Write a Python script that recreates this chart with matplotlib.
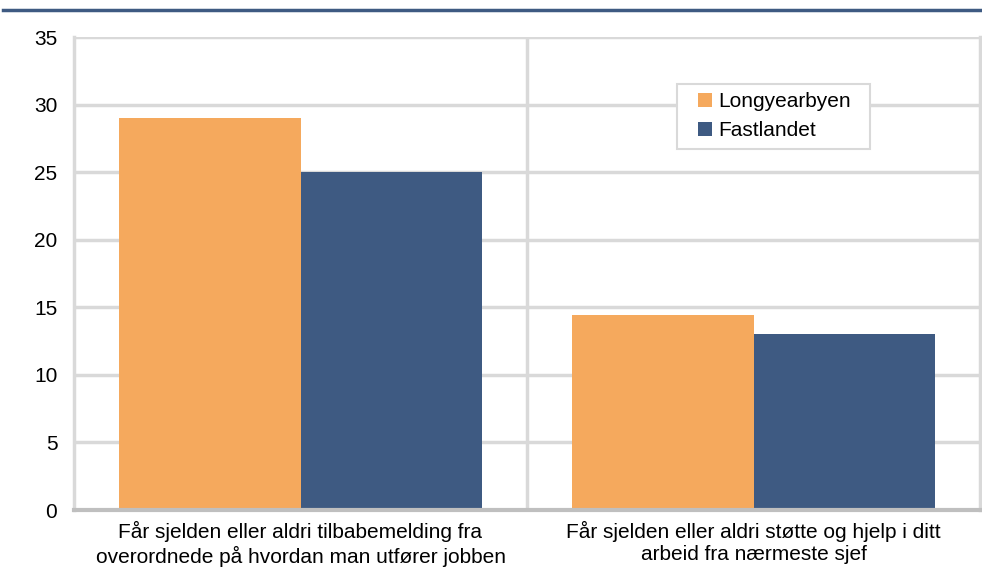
import numpy as np
import matplotlib.pyplot as plt
from matplotlib.lines import Line2D
from matplotlib.patches import Rectangle

plt.rcParams['font.family'] = ['Liberation Sans', 'DejaVu Sans']

# Data
categories = ['Får sjelden eller aldri tilbabemelding fra\noverordnede på hvordan man utfører jobben',
              'Får sjelden eller aldri støtte og hjelp i ditt\narbeid fra nærmeste sjef']
series_names = ['Longyearbyen', 'Fastlandet']
longyearbyen = [29, 14.4]
fastlandet = [25, 13]
y_ticks = [0, 5, 10, 15, 20, 25, 30, 35]

colors = ['#f5a95d', '#3e5a82']
grid_color = '#d9d9d9'

fig = plt.figure(figsize=(9.82, 5.72), dpi=100)
ax = fig.add_axes([74 / 982, 62 / 572, 906 / 982, 473 / 572])

x = np.arange(len(categories))
w = 0.4
ax.bar(x - w / 2, longyearbyen, width=w, color=colors[0], label=series_names[0], zorder=3)
ax.bar(x + w / 2, fastlandet, width=w, color=colors[1], label=series_names[1], zorder=3)

ax.set_xlim(-0.5, len(categories) - 0.5)
ax.set_ylim(0, 35)
ax.set_yticks(y_ticks)
ax.tick_params(axis='y', length=0, labelsize=15, pad=12)
ax.set_xticks(x)
ax.set_xticklabels(categories, fontsize=15, linespacing=1.22)
ax.tick_params(axis='x', length=0, pad=8)

# grid
ax.yaxis.grid(True, color=grid_color, linewidth=2.5, zorder=0)
ax.set_xticks([0.5], minor=True)
ax.tick_params(axis='x', which='minor', length=0)
ax.xaxis.grid(True, which='minor', color=grid_color, linewidth=2.5, zorder=0)

for side in ['left', 'right']:
    ax.spines[side].set_color(grid_color)
    ax.spines[side].set_linewidth(2.5)
ax.spines['top'].set_visible(False)
ax.spines['bottom'].set_color('#bfbfbf')
ax.spines['bottom'].set_linewidth(3)
ax.spines['bottom'].set_zorder(4)

# legend box drawn separately for wider padding
ax.add_patch(Rectangle((603 / 906, 361 / 473), 193 / 906, 65 / 473, transform=ax.transAxes,
                       facecolor='white', edgecolor=grid_color, linewidth=1.5, zorder=5))
leg = ax.legend(loc='upper left', bbox_to_anchor=(624 / 906, 418 / 473), fontsize=15,
                frameon=False, handlelength=0.65, handleheight=0.65,
                handletextpad=0.3, borderpad=0, labelspacing=0.5, borderaxespad=0)
leg.set_zorder(6)

# top band
fig.add_artist(Line2D([3 / 982, 1], [1 - 10 / 572, 1 - 10 / 572], color='#3e5a82', linewidth=2.5))

plt.savefig('out.png', dpi=100)
